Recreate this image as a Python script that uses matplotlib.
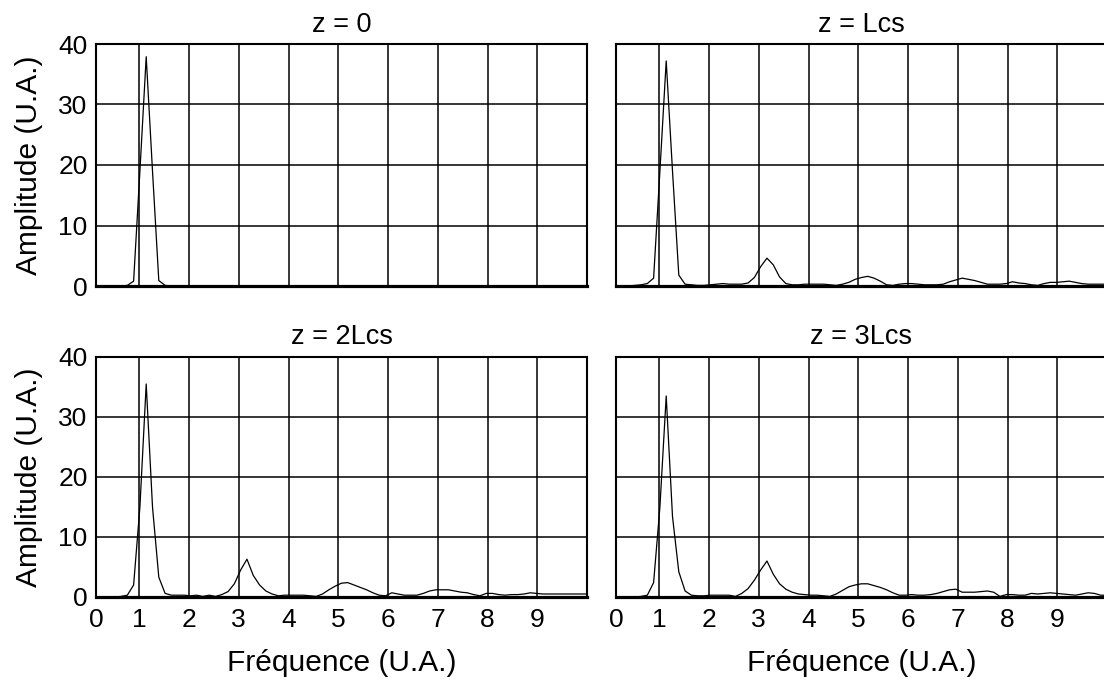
import numpy as np
import matplotlib

matplotlib.use("Agg")
import matplotlib.pyplot as plt
from matplotlib.transforms import ScaledTranslation

plt.rcParams["font.family"] = ["Liberation Sans", "DejaVu Sans"]

# spectrum sample grid (79 bins up to 10 U.A.)
FREQ = np.arange(1, 80) * 10.0 / 79

AMP_Z0 = [
    0, 0, 0, 0, 0, 0.1, 0.8, 19, 37.9, 19,
    0.9, 0.1, 0, 0, 0, 0, 0, 0, 0, 0,
    0, 0, 0, 0, 0, 0, 0, 0, 0, 0,
    0, 0, 0, 0, 0, 0, 0, 0, 0, 0,
    0, 0, 0, 0, 0, 0, 0, 0, 0, 0,
    0, 0, 0, 0, 0, 0, 0, 0, 0, 0,
    0, 0, 0, 0, 0, 0, 0, 0, 0, 0,
    0, 0, 0, 0, 0, 0, 0, 0, 0,
]

AMP_LCS = [
    0, 0, 0, 0.1, 0.2, 0.4, 1.3, 19, 37.2, 19,
    1.8, 0.3, 0.2, 0.1, 0.1, 0.2, 0.3, 0.4, 0.3, 0.3,
    0.3, 0.5, 1.4, 3.2, 4.6, 3.5, 1.5, 0.4, 0.2, 0.2,
    0.3, 0.3, 0.3, 0.3, 0.2, 0.1, 0.3, 0.6, 1.1, 1.4,
    1.6, 1.3, 0.8, 0.2, 0.1, 0.3, 0.4, 0.4, 0.3, 0.2,
    0.2, 0.2, 0.3, 0.7, 1.0, 1.3, 1.1, 0.9, 0.6, 0.3,
    0.3, 0.3, 0.4, 0.7, 0.5, 0.4, 0.2, 0.1, 0.4, 0.6,
    0.6, 0.7, 0.8, 0.6, 0.4, 0.3, 0.3, 0.3, 0.3,
]

AMP_2LCS = [
    0, 0, 0, 0, 0.1, 0.3, 2.0, 15, 35.5, 15,
    3.3, 0.6, 0.3, 0.3, 0.3, 0.2, 0.3, 0.1, 0.3, 0.1,
    0.4, 0.9, 2.2, 4.5, 6.3, 3.6, 2.0, 1.0, 0.5, 0.2,
    0.3, 0.3, 0.3, 0.3, 0.2, 0.1, 0.5, 1.2, 1.8, 2.3,
    2.4, 2.0, 1.6, 1.2, 0.7, 0.3, 0.2, 0.7, 0.5, 0.3,
    0.3, 0.3, 0.6, 1.0, 1.2, 1.2, 1.2, 1.0, 0.8, 0.7,
    0.4, 0.2, 0.6, 0.6, 0.4, 0.3, 0.4, 0.4, 0.5, 0.7,
    0.6, 0.5, 0.5, 0.5, 0.5, 0.5, 0.5, 0.5, 0.5,
]

AMP_3LCS = [
    0, 0, 0, 0, 0.1, 0.3, 2.4, 15, 33.5, 13.4,
    4.2, 1.0, 0.3, 0.2, 0.2, 0.3, 0.3, 0.3, 0.3, 0.1,
    0.6, 1.4, 2.8, 4.5, 6.0, 3.8, 2.2, 1.3, 0.8, 0.5,
    0.4, 0.3, 0.3, 0.2, 0.1, 0.5, 1.1, 1.7, 2.0, 2.2,
    2.2, 1.9, 1.6, 1.2, 0.7, 0.3, 0.3, 0.4, 0.3, 0.3,
    0.4, 0.6, 0.9, 1.2, 1.3, 0.8, 0.8, 0.8, 0.9, 1.0,
    0.8, 0.1, 0.4, 0.4, 0.3, 0.3, 0.6, 0.5, 0.6, 0.7,
    0.6, 0.5, 0.4, 0.3, 0.5, 0.7, 0.6, 0.3, 0.3,
]

TITLES = ["z = 0", "z = Lcs", "z = 2Lcs", "z = 3Lcs"]
SERIES = [AMP_Z0, AMP_LCS, AMP_2LCS, AMP_3LCS]
X_TICKS = [1, 2, 3, 4, 5, 6, 7, 8, 9]
Y_TICKS = [0, 10, 20, 30, 40]

W, H = 1104, 684
# axes boxes in pixels: left, top, width, height
BOXES = [
    (96, 44, 491, 242),
    (616, 44, 491, 242),
    (96, 357, 491, 240),
    (616, 357, 491, 240),
]
X_MIN = 0.13
TICK_SIZE = 19
TITLE_SIZE = 19.5
LABEL_SIZE = 21.5


def setup_axes(fig, ax, title, show_x, show_y):
    ax.set_xlim(X_MIN, 10)
    ax.set_ylim(0, 40)
    ax.set_xticks([X_MIN] + X_TICKS)
    ax.set_yticks(Y_TICKS)
    if show_x:
        ax.set_xticklabels(["0"] + [str(t) for t in X_TICKS])
        ax.set_xlabel("Fréquence (U.A.)", fontsize=LABEL_SIZE, labelpad=12)
        shift = ScaledTranslation(5 / 100, 0, fig.dpi_scale_trans)
        for lab in ax.get_xticklabels()[1:]:
            lab.set_transform(lab.get_transform() + shift)
    else:
        ax.set_xticklabels([])
    if show_y:
        ax.set_yticklabels([str(t) for t in Y_TICKS])
        ax.set_ylabel("Amplitude (U.A.)", fontsize=LABEL_SIZE, labelpad=11)
    else:
        ax.set_yticklabels([])
    ax.tick_params(axis="both", length=0, labelsize=TICK_SIZE)
    ax.tick_params(axis="y", pad=6)
    ax.tick_params(axis="x", pad=8)
    ax.grid(True, color="black", linewidth=1.1)
    ax.set_axisbelow(True)
    for side in ["top", "left", "right"]:
        ax.spines[side].set_linewidth(1.5)
    ax.spines["bottom"].set_linewidth(2.3)
    ax.set_title(title, fontsize=TITLE_SIZE, pad=9)


fig = plt.figure(figsize=(W / 100, H / 100), dpi=100)
for i, (box, title, amp) in enumerate(zip(BOXES, TITLES, SERIES)):
    left, top, width, height = box
    ax = fig.add_axes([left / W, (H - top - height) / H, width / W, height / H])
    ax.plot(FREQ, amp, color="black", linewidth=0.9, zorder=3)
    setup_axes(fig, ax, title, show_x=i >= 2, show_y=i % 2 == 0)

fig.savefig("out.png", dpi=100)
